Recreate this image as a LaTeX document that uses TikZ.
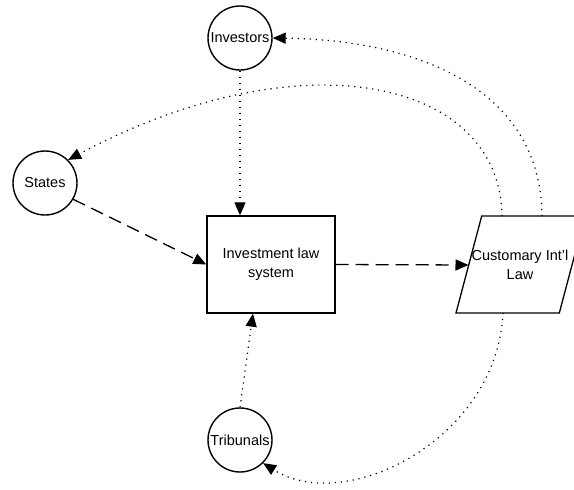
\documentclass[tikz,border=0pt]{standalone}
\usepackage{fontspec}
\setmainfont{Liberation Sans}
\usetikzlibrary{arrows.meta}
\begin{document}
\begin{tikzpicture}[x=1pt,y=-1pt,
  every node/.style={font=\fontsize{14.5}{19}\selectfont, text=black},
  actor/.style={circle, draw, line width=1.4pt, minimum size=64pt, inner sep=0pt},
  sysbox/.style={rectangle, draw, line width=1.3pt, minimum width=128pt, minimum height=97pt, align=center},
  dotline/.style={line width=1.2pt, dash pattern=on 1.2pt off 4.8pt, -{Triangle[length=13pt,width=11pt]}},
  dashline/.style={line width=1.3pt, dash pattern=on 13pt off 7pt, -{Triangle[length=13pt,width=11pt]}}
]
\useasboundingbox (0,0) rectangle (574,490);
\clip (0,0) rectangle (574,490);
\node[actor] (inv) at (240,38) {Investors};
\node[actor] (sta) at (45,183) {States};
\node[actor] (tri) at (240,440) {Tribunals};
\node[sysbox] (sys) at (271,264.5) {Investment law\\system};
% parallelogram
\coordinate (ptl) at (481.7,216);
\coordinate (ptr) at (585,216);
\coordinate (pbr) at (559.3,313);
\coordinate (pbl) at (456,313);
\draw[line width=1.3pt, line join=miter] (ptl) -- (ptr) -- (pbr) -- (pbl) -- cycle;
\node[align=center] (cil) at (520,264.5) {Customary Int\symbol{39}l\\Law};
\coordinate (cilL) at (468.5,265);
\coordinate (cilT1) at (542,216);
\coordinate (cilT2) at (502,216);
\coordinate (cilB) at (503,313);
% connectors
\draw[dotline] (inv.south) -- (sys.north -| inv.south);
\draw[dashline] (sta.-30) -- (sys.west);
\draw[dashline] (sys.east) -- (cilL);
\draw[dotline] (tri.north) -- ([xshift=-18pt]sys.south);
\draw[dotline] (cilT1) .. controls (541,90) and (420,40) .. (inv.east);
\draw[dotline] (cilT2) .. controls (500,78) and (300,36) .. (sta.45);
\draw[dotline] (cilB) .. controls (497,440) and (345,515) .. (tri.-45);
\end{tikzpicture}
\end{document}
